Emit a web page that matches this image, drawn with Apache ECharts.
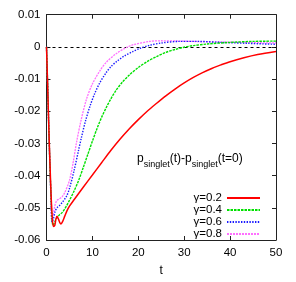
<!DOCTYPE html>
<html><head><meta charset="utf-8">
<script src="https://cdn.jsdelivr.net/npm/echarts@6/dist/echarts.min.js"></script>
<style>html,body{margin:0;padding:0;background:#fff}#c{width:296px;height:282px}</style>
</head><body><div id="c"></div>
<script>
const seriesNames = ['γ=0.2','γ=0.4','γ=0.6','γ=0.8'];
const tRed = [0,0.25,0.5,0.75,1.0,1.25,1.5,1.8,2.05,2.3,2.6,2.9,3.15,3.5,4,4.5,5,6,8,10,12,14,16,18,20,22,24,26,28,30,32,34,36,38,40,43,46,50];
const yRed = [0,-0.012,-0.025,-0.036,-0.046,-0.053,-0.0558,-0.0555,-0.0535,-0.0526,-0.0535,-0.0546,-0.055,-0.0543,-0.0525,-0.0508,-0.0495,-0.0475,-0.0436,-0.0398,-0.036,-0.0322,-0.0287,-0.0255,-0.0226,-0.0199,-0.0175,-0.0152,-0.0131,-0.0112,-0.0095,-0.008,-0.0067,-0.0056,-0.0046,-0.0034,-0.0024,-0.0014];
const tGreen = [0,0.25,0.5,0.75,1.0,1.2,1.4,1.7,2.0,2.3,2.8,3.4,4,4.4,5,6,7,8,9,10,11,12,13,14,15,16.5,18,20,22,24,26,28,30,32,35,40,45,50];
const yGreen = [0,-0.012,-0.025,-0.037,-0.047,-0.053,-0.0554,-0.0548,-0.0538,-0.053,-0.0522,-0.0515,-0.0503,-0.0493,-0.0477,-0.0448,-0.0415,-0.0375,-0.0334,-0.0293,-0.0254,-0.0219,-0.0189,-0.0162,-0.0138,-0.011,-0.0088,-0.0064,-0.0045,-0.003,-0.0017,-0.0008,-0.0001,0.0004,0.0009,0.0014,0.0017,0.0018];
const tBlue = [0,0.25,0.5,0.75,1.0,1.2,1.5,1.9,2.4,2.9,3.5,4.4,5,6,7,7.6,8.5,9.5,10.5,11.6,13,14,15.3,17,18.9,20.3,22.5,25,28.9,33,38,44,50];
const yBlue = [0,-0.012,-0.025,-0.037,-0.048,-0.0544,-0.0535,-0.051,-0.0498,-0.0492,-0.0482,-0.0463,-0.044,-0.0385,-0.032,-0.0282,-0.023,-0.0183,-0.0145,-0.0112,-0.008,-0.0062,-0.0045,-0.0028,-0.0014,-0.0005,0.0005,0.0012,0.0017,0.0017,0.0014,0.0011,0.0008];
const tPink = [0,0.25,0.5,0.75,1.0,1.15,1.4,1.8,2.2,2.8,3.4,4,5,5.8,6.5,7.5,8.7,10,11.6,13,15.3,17.4,19,22.5,25,29,35,42,50];
const yPink = [0,-0.012,-0.025,-0.037,-0.048,-0.054,-0.0525,-0.0495,-0.0478,-0.0472,-0.0466,-0.0452,-0.0415,-0.036,-0.03,-0.023,-0.0163,-0.0115,-0.0075,-0.0048,-0.002,-0.0002,0.0007,0.0017,0.0019,0.0018,0.0016,0.0014,0.0012];
const xTicks = [0,10,20,30,40,50];
const yTicks = [-0.06,-0.05,-0.04,-0.03,-0.02,-0.01,0,0.01];

const FONT = 'Liberation Sans';
const zip = (a,b)=>a.map((v,i)=>[v,b[i]]);
const lineDefs = [
  {t:tRed,y:yRed,color:'#ff0000',type:'solid',w:1.5},
  {t:tGreen,y:yGreen,color:'#00e000',type:[2.5,1],w:1.4},
  {t:tBlue,y:yBlue,color:'#1a1aff',type:[1.4,1.4],w:1.4},
  {t:tPink,y:yPink,color:'#ff70ff',type:[2,1],w:1.3}
];
const series = lineDefs.map((d,i)=>({
  name: seriesNames[i], type:'line', data: zip(d.t,d.y), symbol:'none', smooth:0.3,
  lineStyle:{color:d.color,width:d.w,type:d.type}, itemStyle:{color:d.color}, z: 6-i
}));
series[0].markLine = {silent:true, symbol:'none', label:{show:false},
  lineStyle:{color:'#000',type:[3,3],width:1}, data:[{yAxis:0}], z:1};

const chart = echarts.init(document.getElementById('c'), null, {renderer:'canvas'});
const fmt = v => { const r = Math.round(v*100)/100; return String(r); };
const axLine = {show:true,onZero:false,lineStyle:{color:'#222',width:1}};
const axTick = {inside:true,length:4,lineStyle:{color:'#222'}};
chart.setOption({
  animation:false,
  textStyle:{fontFamily:FONT},
  grid:{left:46.5,right:20,top:14.7,bottom:38,show:false},
  xAxis:[{type:'value',min:xTicks[0],max:xTicks[xTicks.length-1],interval:10,
    name:'t',nameLocation:'middle',nameGap:25,nameTextStyle:{fontSize:12,color:'#000',fontFamily:FONT},
    axisLine:axLine, axisTick:axTick,
    axisLabel:{fontSize:11.5,color:'#000',margin:7,fontFamily:FONT},splitLine:{show:false}},
   {type:'value',position:'top',min:xTicks[0],max:xTicks[xTicks.length-1],interval:10,
    axisLine:axLine, axisTick:axTick, axisLabel:{show:false},splitLine:{show:false}}],
  yAxis:[{type:'value',min:yTicks[0],max:yTicks[yTicks.length-1],interval:0.01,
    axisLine:axLine, axisTick:axTick,
    axisLabel:{fontSize:11.5,color:'#000',margin:6,formatter:fmt,fontFamily:FONT},splitLine:{show:false}},
   {type:'value',position:'right',min:yTicks[0],max:yTicks[yTicks.length-1],interval:0.01,
    axisLine:axLine, axisTick:axTick, axisLabel:{show:false},splitLine:{show:false}}],
  legend:{orient:'vertical',align:'right',right:35,top:192,padding:0,itemWidth:33,itemHeight:12,itemGap:0,
    itemStyle:{opacity:0},
    textStyle:{fontSize:11.5,color:'#000',fontFamily:FONT},
    data:seriesNames},
  graphic:[{type:'text',left:137,top:153,style:{
    text:'{m|p}{s|singlet}{m|(t)-p}{s|singlet}{m|(t=0)}',
    rich:{m:{fontSize:12,lineHeight:14,verticalAlign:'top',fontFamily:FONT,fill:'#000'},
          s:{fontSize:9,lineHeight:9,padding:[7,0,0,0],verticalAlign:'top',fontFamily:FONT,fill:'#000'}}}}],
  series: series
});
</script></body></html>
